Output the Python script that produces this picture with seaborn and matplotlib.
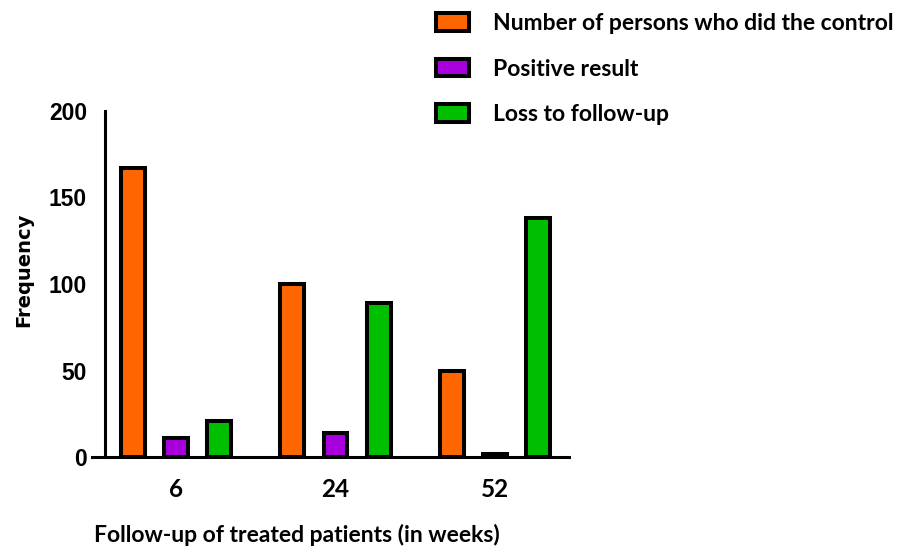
import matplotlib
matplotlib.use("Agg")
import matplotlib.pyplot as plt
from matplotlib.patches import Patch
import seaborn as sns
import pandas as pd

weeks = ["6", "24", "52"]
groups = ["Number of persons who did the control", "Positive result", "Loss to follow-up"]
controls = [167, 100, 50]
positives = [11, 14, 2]
losses = [21, 89, 138]
colors = ["#FF6600", "#A800DD", "#00BE00"]

df = pd.DataFrame({
    "week": weeks * 3,
    "group": [groups[0]] * 3 + [groups[1]] * 3 + [groups[2]] * 3,
    "count": controls + positives + losses,
})

sns.set_style("white")
plt.rcParams["font.family"] = ["DejaVu Sans"]
plt.rcParams["text.color"] = "black"
plt.rcParams["axes.labelcolor"] = "black"
plt.rcParams["xtick.color"] = "black"
plt.rcParams["ytick.color"] = "black"

fig = plt.figure(figsize=(9.09, 5.48), dpi=100)
ax = fig.add_axes([92 / 909, 1 - 457 / 548, (569 - 92) / 909, (457 - 111) / 548])

sns.barplot(data=df, x="week", y="count", hue="group", order=weeks, hue_order=groups,
            palette=colors, width=0.815, gap=0.45, edgecolor="black", linewidth=2.9,
            saturation=1, legend=False, ax=ax)

ax.set_xlim(-0.527, 2.464)
ax.set_ylim(0, 200)
ax.set_yticks([0, 50, 100, 150, 200])

for s in ["top", "right"]:
    ax.spines[s].set_visible(False)
ax.spines["left"].set_position(("data", -0.445))
for s in ["left", "bottom"]:
    ax.spines[s].set_linewidth(2.2)
    ax.spines[s].set_color("black")

ax.tick_params(axis="both", direction="out", length=9.4, width=2.2, color="black",
               labelcolor="black")
ax.tick_params(axis="y", pad=3.6)
ax.tick_params(axis="x", pad=6)

for lab in ax.get_yticklabels():
    lab.set_family(["Liberation Sans", "DejaVu Sans"])
    lab.set_fontweight("bold")
    lab.set_fontsize(16.5)
for lab in ax.get_xticklabels():
    lab.set_family(["Lato", "DejaVu Sans"])
    lab.set_fontweight("bold")
    lab.set_fontsize(17.5)

ax.set_ylabel("Frequency", fontsize=14, fontweight="bold")
ax.yaxis.set_label_coords(-0.124, 0.54)
ax.set_xlabel("Follow-up of treated patients (in weeks)", fontsize=16.5,
              fontweight="bold", family=["Lato", "DejaVu Sans"])
ax.xaxis.set_label_coords(0.429, -0.193)

handles = [Patch(facecolor=c, edgecolor="black", linewidth=2.9) for c in colors]
fig.legend(handles, groups, loc="upper left", bbox_to_anchor=(436 / 909, 1 - 13 / 548),
           frameon=False, borderpad=0, borderaxespad=0,
           prop={"family": ["Lato", "DejaVu Sans"], "weight": "bold", "size": 16.5},
           handlelength=1.45, handleheight=0.8, labelspacing=1.07, handletextpad=1.05)

fig.savefig("out.png", dpi=100)
